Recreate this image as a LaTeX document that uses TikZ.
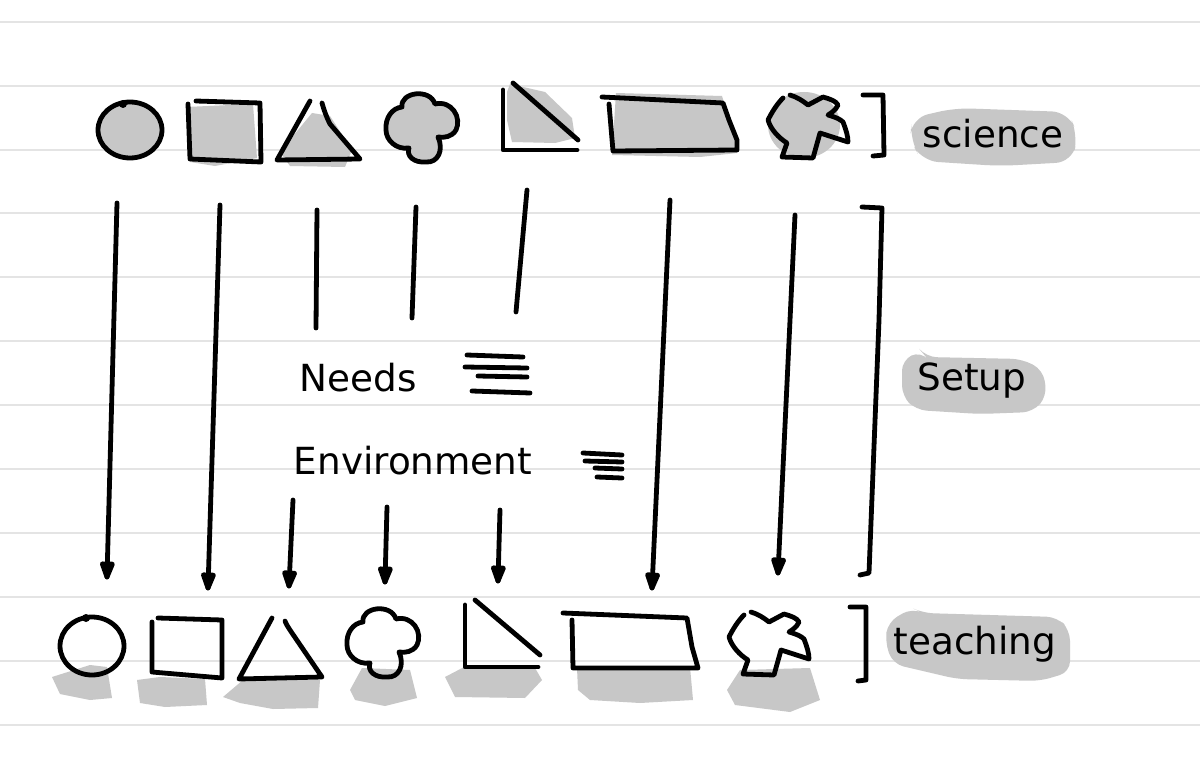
\documentclass[tikz,border=0pt]{standalone}
\usepackage{fontspec}
\newfontfamily\handfont{DejaVu Sans}
\definecolor{sketchgray}{RGB}{199,199,199}
\definecolor{ruleline}{RGB}{228,228,228}

\begin{document}
\begin{tikzpicture}[x=0.75pt,y=0.75pt,yscale=-1,xscale=1,
  pen/.style={color=black, line width=3.6pt, line cap=round, line join=round},
  paperline/.style={color=ruleline, line width=1.5pt},
  grayfill/.style={fill=sketchgray, draw=none},
  handtext/.style={inner sep=0pt, font=\handfont\fontsize{28}{32}\selectfont}]
%set diagram left start at 0, and has height of 767
\useasboundingbox (0,0) rectangle (1200,767);
\fill [white] (0,0) rectangle (1200,767);

%Straight Lines: ruled paper
\draw [paperline] (0,22) -- (1200,22) ;
\draw [paperline] (0,86) -- (1200,86) ;
\draw [paperline] (0,150) -- (1200,150) ;
\draw [paperline] (0,213) -- (1200,213) ;
\draw [paperline] (0,277) -- (1200,277) ;
\draw [paperline] (0,341) -- (1200,341) ;
\draw [paperline] (0,405) -- (1200,405) ;
\draw [paperline] (0,469) -- (1200,469) ;
\draw [paperline] (0,533) -- (1200,533) ;
\draw [paperline] (0,597) -- (1200,597) ;
\draw [paperline] (0,661) -- (1200,661) ;
\draw [paperline] (0,725) -- (1200,725) ;

%Shape: gray blobs behind labels
\fill [grayfill, rounded corners=12pt] (912,118) -- (955,108) -- (1068,112) -- (1078,135) -- (1072,162) -- (1000,166) -- (922,161) -- (910,140) -- cycle ;
\fill [grayfill, rounded corners=8pt] (902,360) -- (921,351) -- (926,357) -- (1022,359) -- (1043,370) -- (1047,396) -- (1033,412) -- (980,414) -- (916,410) -- (902,396) -- cycle ;
\fill [grayfill, rounded corners=8pt] (888,622) -- (912,608) -- (923,613) -- (1057,617) -- (1070,630) -- (1070,672) -- (1040,681) -- (957,679) -- (893,664) -- (885,642) -- cycle ;

%Shape: gray fills, top row
\fill [grayfill] (130,130) ellipse (31 and 27) ;
\fill [grayfill] (186,107) -- (253,104) -- (257,158) -- (215,166) -- (190,162) -- cycle ;
\fill [grayfill] (312,113) -- (330,116) -- (352,150) -- (345,167) -- (290,166) -- (280,152) -- cycle ;
\fill [grayfill] (402,107) .. controls (400,92) and (430,88) .. (435,104) .. controls (452,100) and (462,118) .. (456,130) .. controls (452,137) and (444,138) .. (438,137) .. controls (444,150) and (438,163) .. (426,162) .. controls (414,163) and (406,156) .. (409,148) .. controls (396,150) and (386,140) .. (386,130) .. controls (385,118) and (392,108) .. (402,107) -- cycle ;
\fill [grayfill] (510,84) -- (545,92) -- (572,118) -- (575,138) -- (555,143) -- (512,142) -- (507,120) -- (507,92) -- cycle ;
\fill [grayfill] (616,93) -- (722,96) -- (734,135) -- (737,153) -- (700,157) -- (612,155) -- cycle ;
\fill [grayfill] (804,125) ellipse (36 and 33) ;

%Shape: gray shadows, bottom row
\fill [grayfill] (52,677) -- (90,665) -- (107,667) -- (112,698) -- (90,700) -- (60,694) -- cycle ;
\fill [grayfill] (137,680) -- (160,677) -- (205,679) -- (207,705) -- (165,707) -- (140,703) -- cycle ;
\fill [grayfill] (223,697) -- (243,680) -- (320,680) -- (318,708) -- (273,709) -- (240,703) -- cycle ;
\fill [grayfill] (350,690) -- (362,668) -- (410,670) -- (417,698) -- (385,706) -- (355,700) -- cycle ;
\fill [grayfill] (445,677) -- (468,665) -- (535,668) -- (542,680) -- (525,698) -- (455,697) -- cycle ;
\fill [grayfill] (577,668) -- (690,667) -- (693,700) -- (640,703) -- (590,700) -- (578,690) -- cycle ;
\fill [grayfill] (727,690) -- (740,670) -- (810,668) -- (820,700) -- (790,712) -- (735,705) -- cycle ;

%Shape: top row outlines
\draw [pen] (130,130) ellipse (32 and 28) ;
\fill (123,104) circle (4) ;
\draw [pen] (196,101) -- (260,103) -- (261,162) -- (190,159) -- (188,104) ;
\draw [pen] (310,101) -- (277,160) -- (360,159) -- (330,124) .. controls (326,116) and (324,110) .. (322,103) ;
\draw [pen] (402,107) .. controls (400,92) and (430,88) .. (435,104) .. controls (452,100) and (462,118) .. (456,130) .. controls (452,137) and (444,138) .. (438,137) .. controls (444,150) and (438,163) .. (426,162) .. controls (414,163) and (406,156) .. (409,148) .. controls (396,150) and (386,140) .. (386,130) .. controls (385,118) and (392,108) .. (402,107) ;
\draw [pen] (503,90) -- (503,150) -- (577,150) ;
\draw [pen] (513,83) -- (578,140) ;
\draw [pen] (602,97) -- (723,103) -- (729,120) -- (737,140) -- (737,150) -- (613,151) -- (609,104) ;
\draw [pen] (790,95) .. controls (797,97) and (803,101) .. (808,105) -- (823,97) .. controls (830,99) and (836,101) .. (838,105) .. controls (836,110) and (831,113) .. (828,115) .. controls (835,117) and (840,119) .. (843,122) .. controls (846,130) and (848,136) .. (848,142) -- (820,133) -- (813,158) -- (782,157) -- (787,143) .. controls (779,138) and (771,130) .. (768,120) .. controls (772,112) and (777,104) .. (783,98) ;
\draw [pen] (863,95) -- (883,95) -- (884,155) -- (873,156) ;

%Shape: bottom row outlines
\draw [pen] (92,646) ellipse (32 and 29) ;
\fill (86,618) circle (4) ;
\draw [pen] (158,618) -- (222,620) -- (222,678) -- (152,672) -- (152,622) ;
\draw [pen] (272,618) -- (239,679) -- (322,677) -- (292,633) .. controls (288,627) and (286,624) .. (285,621) ;
\draw [pen, shift={(-39,515)}] (402,107) .. controls (400,92) and (430,88) .. (435,104) .. controls (452,100) and (462,118) .. (456,130) .. controls (452,137) and (444,138) .. (438,137) .. controls (444,150) and (438,163) .. (426,162) .. controls (414,163) and (406,156) .. (409,148) .. controls (396,150) and (386,140) .. (386,130) .. controls (385,118) and (392,108) .. (402,107) ;
\draw [pen] (465,605) -- (465,667) -- (538,667) ;
\draw [pen] (475,600) -- (540,655) ;
\draw [pen] (563,613) -- (687,618) -- (692,647) -- (698,668) -- (573,668) -- (572,620) ;
\draw [pen, shift={(-39,517)}] (790,95) .. controls (797,97) and (803,101) .. (808,105) -- (823,97) .. controls (830,99) and (836,101) .. (838,105) .. controls (836,110) and (831,113) .. (828,115) .. controls (835,117) and (840,119) .. (843,122) .. controls (846,130) and (848,136) .. (848,142) -- (820,133) -- (813,158) -- (782,157) -- (787,143) .. controls (779,138) and (771,130) .. (768,120) .. controls (772,112) and (777,104) .. (783,98) ;
\draw [pen] (850,607) -- (866,607) -- (866,680) -- (858,681) ;

%Straight Lines: setup bracket
\draw [pen] (862,207) -- (882,208) -- (879,320) -- (869,573) -- (860,575) ;

% Text Node
\node [handtext] (science) at (993,134) {science};
\node [handtext] (setup) at (972,381) {Setup};
\node [handtext] (teaching) at (975,644) {teaching};
\node [handtext] (needs) at (358,378) {Needs};
\node [handtext] (environment) at (413,461) {Environment};

%Straight Lines: equals marks
\draw [pen] (467,355) -- (523,357) ;
\draw [pen] (465,367) -- (527,368) ;
\draw [pen] (478,376) -- (527,377) ;
\draw [pen] (472,391) -- (530,393) ;
\draw [pen] (583,453) -- (622,455) ;
\draw [pen] (585,461) -- (622,462) ;
\draw [pen] (595,468) -- (622,469) ;
\draw [pen] (597,477) -- (622,478) ;

% arrow ends
\coordinate (sci1) at (117,203) ; \coordinate (tea1) at (107,577) ;
\coordinate (sci2) at (220,205) ; \coordinate (tea2) at (208,588) ;
\coordinate (sci3) at (317,210) ; \coordinate (need3) at (316,328) ;
\coordinate (sci4) at (416,207) ; \coordinate (need4) at (412,318) ;
\coordinate (sci5) at (527,190) ; \coordinate (need5) at (516,312) ;
\coordinate (sci6) at (670,200) ; \coordinate (tea6) at (652,588) ;
\coordinate (sci7) at (795,215) ; \coordinate (tea7) at (778,573) ;
\coordinate (env3) at (293,500) ; \coordinate (tea3) at (289,586) ;
\coordinate (env4) at (387,507) ; \coordinate (tea4) at (385,582) ;
\coordinate (env5) at (500,510) ; \coordinate (tea5) at (498,581) ;

%Straight Lines
\draw [pen] (sci1) -- (tea1) ;
\draw [pen, fill=black, shift={(107,577)}, rotate=-88.5] (0,0) -- (13,-5) -- (13,5) -- cycle ;
\draw [pen] (sci2) -- (tea2) ;
\draw [pen, fill=black, shift={(208,588)}, rotate=-88.2] (0,0) -- (13,-5) -- (13,5) -- cycle ;
\draw [pen] (sci3) -- (need3) ;
\draw [pen] (sci4) -- (need4) ;
\draw [pen] (sci5) -- (need5) ;
\draw [pen] (sci6) -- (tea6) ;
\draw [pen, fill=black, shift={(652,588)}, rotate=-87.3] (0,0) -- (13,-5) -- (13,5) -- cycle ;
\draw [pen] (sci7) -- (tea7) ;
\draw [pen, fill=black, shift={(778,573)}, rotate=-87.3] (0,0) -- (13,-5) -- (13,5) -- cycle ;
\draw [pen] (env3) -- (tea3) ;
\draw [pen, fill=black, shift={(289,586)}, rotate=-87.3] (0,0) -- (13,-5) -- (13,5) -- cycle ;
\draw [pen] (env4) -- (tea4) ;
\draw [pen, fill=black, shift={(385,582)}, rotate=-88.5] (0,0) -- (13,-5) -- (13,5) -- cycle ;
\draw [pen] (env5) -- (tea5) ;
\draw [pen, fill=black, shift={(498,581)}, rotate=-88.4] (0,0) -- (13,-5) -- (13,5) -- cycle ;

\end{tikzpicture}
\end{document}
